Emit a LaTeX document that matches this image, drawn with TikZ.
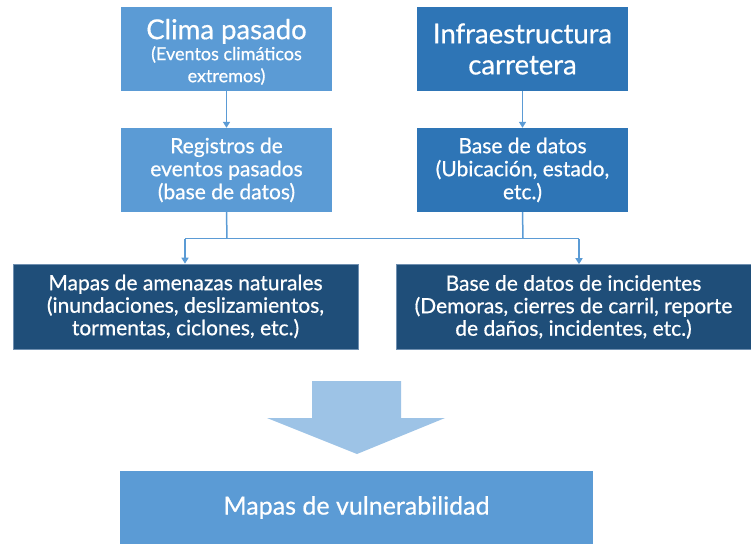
\documentclass[tikz,border=0pt]{standalone}
\usepackage{fontspec}
\setmainfont{Lato}[FakeBold=0.6,BoldFont={Lato}]
\usetikzlibrary{arrows.meta}
\definecolor{lightb}{HTML}{5B9BD5}
\definecolor{midb}{HTML}{2E75B6}
\definecolor{darkb}{HTML}{1F4E79}
\definecolor{edgeb}{HTML}{6F8FB0}
\definecolor{bigarrow}{HTML}{9DC3E6}
\begin{document}
\begin{tikzpicture}[x=1pt,y=-1pt,
  box/.style={rectangle,inner sep=0pt,text=white,align=center,font=\bfseries\fontsize{21}{23}\selectfont},
  lightbox/.style={box,fill=lightb,minimum width=211pt,minimum height=84pt},
  midbox/.style={box,fill=midb,minimum width=211pt,minimum height=84pt},
  darkbox/.style={box,fill=darkb,draw=edgeb,line width=0.6pt,minimum height=85pt,font=\bfseries\fontsize{21}{22.5}\selectfont},
  conn/.style={draw=lightb,line width=1.5pt},
  arr/.style={conn,-{Triangle[width=7pt,length=6pt]}}]
\useasboundingbox (0,0) rectangle (751,545);
\node[lightbox] (clima) at (226.5,49) {{\fontsize{27.5}{28}\selectfont\rule{0pt}{26pt}Clima pasado}\\[-2pt]{\fontsize{18}{20}\selectfont (Eventos climáticos}\\[-1pt]{\fontsize{18}{20}\selectfont extremos)}};
\node[midbox,font=\bfseries\fontsize{27.5}{31}\selectfont] (infra) at (522.5,49) {Infraestructura\\carretera};
\node[lightbox] (reg) at (226.5,170) {Registros de\\eventos pasados\\(base de datos)};
\node[midbox] (base) at (522.5,170) {Base de datos\\(Ubicación, estado,\\etc.)};
\node[darkbox,minimum width=345pt] (mapas) at (185.5,306.5) {Mapas de amenazas naturales\\(inundaciones, deslizamientos,\\tormentas, ciclones, etc.)};
\node[darkbox,minimum width=355pt] (inc) at (573.5,307) {Base de datos de incidentes\\(Demoras, cierres de carril, reporte\\de daños, incidentes, etc.)};
\node[box,fill=lightb,minimum width=473pt,minimum height=73pt,font=\bfseries\fontsize{25}{28}\selectfont] (vul) at (356.5,507.5) {Mapas de vulnerabilidad};
\coordinate (jl) at (185,238.5);
\coordinate (jr) at (579,238.5);
\coordinate (ml) at (227,238.5);
\coordinate (mr) at (523,238.5);
\draw[arr] (clima.south) -- (reg.north);
\draw[arr] (infra.south) -- (base.north);
\draw[conn] (reg.south) -- (ml);
\draw[conn] (base.south) -- (mr);
\draw[conn] (jl) -- (jr);
\draw[arr] (jl) -- (jl |- mapas.north);
\draw[arr] (jr) -- (jr |- inc.north);
\fill[bigarrow] (312,381) -- (401,381) -- (401,418) -- (445,418) -- (357,454) -- (267,418) -- (312,418) -- cycle;
\end{tikzpicture}
\end{document}
